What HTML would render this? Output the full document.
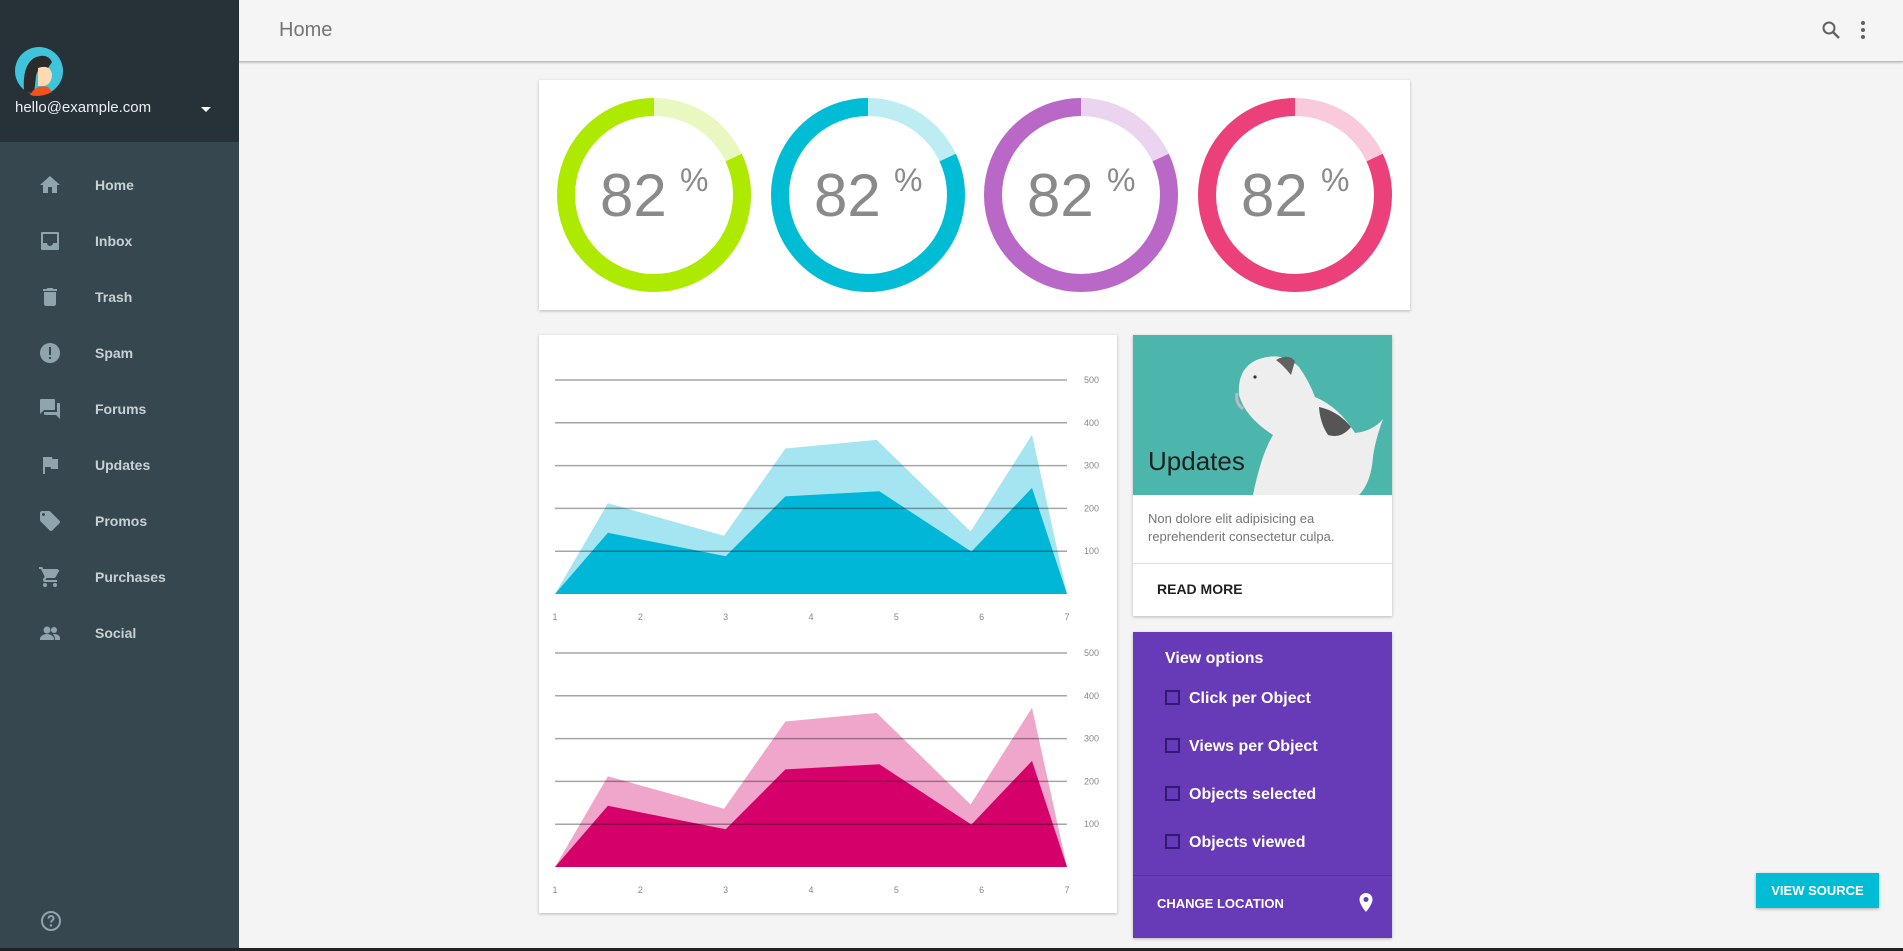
<!DOCTYPE html>
<html><head><meta charset="utf-8">
<style>
*{box-sizing:border-box;margin:0;padding:0}
body{width:1903px;height:951px;overflow:hidden;background:#f4f4f4;font-family:"Liberation Sans",sans-serif;position:relative}
.abs{position:absolute}
#sidebar{left:0;top:0;width:239px;height:951px;background:#37474f}
#sidehead{left:0;top:0;width:239px;height:142px;background:#263238}
.nav{position:absolute;left:0;width:239px;height:56px}
.nav span{position:absolute;left:95px;top:0;line-height:56px;font-size:14px;font-weight:bold;color:#c9d0d3}
.nav svg{position:absolute;left:38px;top:16px}
.card{position:absolute;background:#fff;box-shadow:0 1px 3px rgba(0,0,0,.25)}
</style></head><body>
<div id="sidebar" class="abs">
 <div id="sidehead" class="abs">
  <svg class="abs" style="left:14px;top:46px" width="50" height="50">
   <circle cx="25" cy="25" r="24" fill="#40c4dc"/>
   <path d="M10 45 Q8 20 20 12 Q33 6 38 16 L34 22 Q24 20 22 30 L20 48 Z" fill="#2b2b2b"/>
   <path d="M24 22 Q36 18 38 28 Q38 38 30 40 L24 40 Z" fill="#ffd9b0"/>
   <path d="M16 49 Q22 38 34 41 L38 46 Q26 52 16 49Z" fill="#f4511e"/>
  </svg>
  <div class="abs" style="left:15px;top:99px;font-size:15px;color:#eceff1">hello@example.com</div>
  <svg class="abs" style="left:200px;top:106px" width="12" height="8"><path d="M1 1 L11 1 L6 6Z" fill="#fff"/></svg>
 </div>
 <div class="nav" style="top:157px"><svg width="24" height="24"><path d="M10 20v-6h4v6h5v-8h3L12 3 2 12h3v8z" fill="#90a4ae"/></svg><span>Home</span></div>
 <div class="nav" style="top:213px"><svg width="24" height="24"><path d="M4 3h16a1 1 0 011 1v16a1 1 0 01-1 1H4a1 1 0 01-1-1V4a1 1 0 011-1zm1 2v9h4a3 3 0 006 0h4V5z" fill="#90a4ae"/></svg><span>Inbox</span></div>
 <div class="nav" style="top:269px"><svg width="24" height="24"><path d="M6 19c0 1 1 2 2 2h8c1 0 2-1 2-2V7H6zM19 4h-3.5l-1-1h-5l-1 1H5v2h14z" fill="#90a4ae"/></svg><span>Trash</span></div>
 <div class="nav" style="top:325px"><svg width="24" height="24"><circle cx="12" cy="12" r="10" fill="#90a4ae"/><rect x="11" y="6" width="2" height="8" fill="#37474f"/><rect x="11" y="16" width="2" height="2" fill="#37474f"/></svg><span>Spam</span></div>
 <div class="nav" style="top:381px"><svg width="24" height="24"><path d="M21 6h-2v9H6v2c0 .6.4 1 1 1h11l4 4V7c0-.6-.4-1-1-1zm-4 6V3c0-.6-.4-1-1-1H3c-.6 0-1 .4-1 1v14l4-4h10c.6 0 1-.4 1-1z" fill="#90a4ae"/></svg><span>Forums</span></div>
 <div class="nav" style="top:437px"><svg width="24" height="24"><path d="M14.4 6L14 4H5v17h2v-7h5.6l.4 2h7V6z" fill="#90a4ae"/></svg><span>Updates</span></div>
 <div class="nav" style="top:493px"><svg width="24" height="24"><path d="M21.4 11.6l-9-9C12 2.2 11.6 2 11 2H4c-1.1 0-2 .9-2 2v7c0 .6.2 1.1.6 1.4l9 9c.4.4.9.6 1.4.6s1-.2 1.4-.6l7-7c.4-.4.6-.9.6-1.4s-.2-1-.6-1.4zM5.5 7C4.7 7 4 6.3 4 5.5S4.7 4 5.5 4 7 4.7 7 5.5 6.3 7 5.5 7z" fill="#90a4ae"/></svg><span>Promos</span></div>
 <div class="nav" style="top:549px"><svg width="24" height="24"><path d="M7 18a2 2 0 100 4 2 2 0 000-4zM1 2v2h2l3.6 7.6L5.2 14c-.1.3-.2.6-.2 1 0 1.1.9 2 2 2h12v-2H7.4l1.1-2h7.5c.8 0 1.4-.4 1.7-1l3.6-6.5L19.4 4H5.2l-.9-2zm16 16a2 2 0 100 4 2 2 0 000-4z" fill="#90a4ae"/></svg><span>Purchases</span></div>
 <div class="nav" style="top:605px"><svg width="24" height="24"><circle cx="9" cy="9" r="3.5" fill="#90a4ae"/><circle cx="16" cy="9" r="3" fill="#90a4ae"/><path d="M2 18c0-3 4-5 7-5s7 2 7 5v1H2zM16 13c3 0 6 1.5 6 4v2h-5v-1c0-2-1-3.5-2-4.8z" fill="#90a4ae"/></svg><span>Social</span></div>
 <svg class="abs" style="left:39px;top:909px" width="24" height="24"><circle cx="12" cy="12" r="9" fill="none" stroke="#90a4ae" stroke-width="2"/><path d="M9.5 9.5a2.5 2.5 0 115 0c0 2-2.5 2-2.5 4" fill="none" stroke="#90a4ae" stroke-width="2"/><circle cx="12" cy="16.5" r="1.2" fill="#90a4ae"/></svg>
</div>

<div class="abs" style="left:239px;top:0;width:1664px;height:62px;background:#f5f5f5;border-bottom:1px solid #bdbdbd;box-shadow:0 1px 2px rgba(0,0,0,.2)">
 <div class="abs" style="left:40px;top:19px;font-size:20px;color:#757575">Home</div>
 <svg class="abs" style="left:1580px;top:18px" width="24" height="24"><circle cx="10" cy="10" r="5.5" fill="none" stroke="#616161" stroke-width="2"/><path d="M14 14l6 6" stroke="#616161" stroke-width="2.4"/></svg>
 <svg class="abs" style="left:1614px;top:18px" width="20" height="24"><circle cx="10" cy="5" r="2" fill="#616161"/><circle cx="10" cy="12" r="2" fill="#616161"/><circle cx="10" cy="19" r="2" fill="#616161"/></svg>
</div>

<div class="card" style="left:539px;top:80px;width:871px;height:230px">
 <svg id="donuts" width="871" height="230"></svg>
</div>

<div class="card" style="left:539px;top:335px;width:578px;height:578px">
 <svg id="charts" width="578" height="578"></svg>
</div>

<div class="card" style="left:1133px;top:335px;width:259px;height:281px">
 <svg class="abs" style="left:0;top:0" width="259" height="160">
  <rect width="259" height="160" fill="#4db6ac"/>
  <path d="M120 160 Q128 120 140 100 Q112 82 106 60 Q104 32 126 24 Q150 16 166 32 Q176 46 182 62 Q206 72 222 98 Q240 96 250 84 Q242 106 240 122 Q238 148 226 160Z" fill="#eeeeee"/>
  <path d="M143 25 Q155 18 162 26 L158 40 Q150 30 143 25Z" fill="#616161"/>
  <path d="M186 72 Q205 76 218 92 Q208 104 195 100 Q187 88 186 72Z" fill="#555"/>
  <circle cx="122" cy="42" r="1.6" fill="#333"/>
  <path d="M104 58 Q102 68 110 74" stroke="#bbb" stroke-width="3" fill="none"/>
 </svg>
 <div class="abs" style="left:15px;top:111px;font-size:26px;color:#212121">Updates</div>
 <div class="abs" style="left:15px;top:175px;width:235px;font-size:13px;line-height:18px;color:#757575">Non dolore elit adipisicing ea reprehenderit consectetur culpa.</div>
 <div class="abs" style="left:0;top:228px;width:259px;height:1px;background:#e0e0e0"></div>
 <div class="abs" style="left:24px;top:246px;font-size:14px;font-weight:bold;color:#212121">READ MORE</div>
</div>

<div class="card" style="left:1133px;top:632px;width:259px;height:306px;background:#673ab7">
 <div class="abs" style="left:32px;top:18px;font-size:16px;font-weight:bold;color:#fff">View options</div>
 <div class="abs" style="left:32px;top:58px;font-size:16px;font-weight:bold;color:#fff"><span style="display:inline-block;width:15px;height:15px;border:2px solid #311b72;vertical-align:-2px;margin-right:9px"></span>Click per Object</div>
 <div class="abs" style="left:32px;top:106px;font-size:16px;font-weight:bold;color:#fff"><span style="display:inline-block;width:15px;height:15px;border:2px solid #311b72;vertical-align:-2px;margin-right:9px"></span>Views per Object</div>
 <div class="abs" style="left:32px;top:154px;font-size:16px;font-weight:bold;color:#fff"><span style="display:inline-block;width:15px;height:15px;border:2px solid #311b72;vertical-align:-2px;margin-right:9px"></span>Objects selected</div>
 <div class="abs" style="left:32px;top:202px;font-size:16px;font-weight:bold;color:#fff"><span style="display:inline-block;width:15px;height:15px;border:2px solid #311b72;vertical-align:-2px;margin-right:9px"></span>Objects viewed</div>
 <div class="abs" style="left:0;top:243px;width:259px;height:1px;background:#5a2fa3"></div>
 <div class="abs" style="left:24px;top:264px;font-size:13px;font-weight:bold;color:#fff">CHANGE LOCATION</div>
 <svg class="abs" style="left:225px;top:260px" width="16" height="22"><path d="M8 1a6.5 6.5 0 00-6.5 6.5C1.5 12.5 8 20 8 20s6.5-7.5 6.5-12.5A6.5 6.5 0 008 1zm0 9a2.5 2.5 0 110-5 2.5 2.5 0 010 5z" fill="#fff"/></svg>
</div>

<div class="abs" style="left:1756px;top:873px;width:123px;height:35px;background:#00bcd4;color:#fff;font-size:13px;font-weight:bold;text-align:center;line-height:35px;box-shadow:0 1px 3px rgba(0,0,0,.3)">VIEW SOURCE</div>
<div class="abs" style="left:0;top:948px;width:1903px;height:3px;background:#222"></div>

<script>
// Donut data
const donutValues = [82, 82, 82, 82];
const donutColors = ['#aeea00', '#00bcd4', '#ba68c8', '#ec407a'];
const donutLight = ['#e9f8c1', '#bdedf3', '#ebd4ef', '#f9cadb'];
// Area chart data
const xTicks = ['1','2','3','4','5','6','7'];
const yTicks = [100, 200, 300, 400, 500];
const lightX = [1, 1.62, 2.98, 3.7, 4.77, 5.87, 6.59, 7];
const lightY = [0, 212, 136, 340, 360, 146, 372, 0];
const darkX = [1, 1.62, 3.0, 3.7, 4.8, 5.88, 6.59, 7];
const darkY = [0, 143, 88, 228, 240, 99, 248, 0];

const NS = 'http://www.w3.org/2000/svg';
function mk(tag, attrs, parent){const e=document.createElementNS(NS,tag);for(const k in attrs)e.setAttribute(k,attrs[k]);parent.appendChild(e);return e;}

const dsvg = document.getElementById('donuts');
const centers = [115, 329, 542, 756];
donutValues.forEach((v,i)=>{
  const cx=centers[i], cy=115, r=88;
  const g=mk('g',{},dsvg);
  
  
  const C=2*Math.PI*r;
  const bg=mk('circle',{cx:cx,cy:cy,r:r,fill:'none',stroke:donutLight[i],'stroke-width':18},g);
  
  
  const frac=v/100;
  const arc=mk('circle',{cx:cx,cy:cy,r:r,fill:'none',stroke:donutColors[i],'stroke-width':18,
    'stroke-dasharray':(frac*C)+' '+C,'stroke-dashoffset':-( (1-frac)*C ),
    transform:'rotate(-90 '+cx+' '+cy+')'},g);
  
  
  const t=mk('text',{x:cx-54,y:cy+21,'font-size':60,fill:'#8a8a8a','font-family':'Liberation Sans, sans-serif'},g);
  t.textContent=String(v);
  
  
  const p=mk('text',{x:cx+26,y:cy-4,'font-size':32,fill:'#8a8a8a','font-family':'Liberation Sans, sans-serif'},g);
  p.textContent='%';
  
  
});

const csvg=document.getElementById('charts');
function drawChart(offY, light, dark, idx){
  const x0=16, x1=528, base=259+offY, k=0.428;
  const X=v=>x0+(v-1)/(6)*(x1-x0);
  const Y=v=>base-v*k;
  const g=mk('g',{},csvg);
  
  
  const pts=(xs,ys)=>xs.map((x,i)=>X(x).toFixed(1)+','+Y(ys[i]).toFixed(1)).join(' ');
  const a1=mk('polygon',{points:pts(lightX,lightY),fill:light},g);
  
  
  const a2=mk('polygon',{points:pts(darkX,darkY),fill:dark},g);
  
  
  yTicks.forEach(t=>{
    const l=mk('line',{x1:x0,x2:x1,y1:Y(t),y2:Y(t),stroke:'rgba(0,0,0,0.35)','stroke-width':1.5},g);
    
    
    const tx=mk('text',{x:545,y:Y(t)+3,'font-size':9,fill:'#888'},g);
    tx.textContent=t;
    
    
  });
  xTicks.forEach((t,i)=>{
    const tx=mk('text',{x:X(i+1),y:base+26,'font-size':9,fill:'#888','text-anchor':'middle'},g);
    tx.textContent=t;
    
    
  });
}
drawChart(0,'#a5e4f1','#00b7d8',1);
drawChart(273,'#f0a6cb','#d6006b',2);
</script>
</body></html>
